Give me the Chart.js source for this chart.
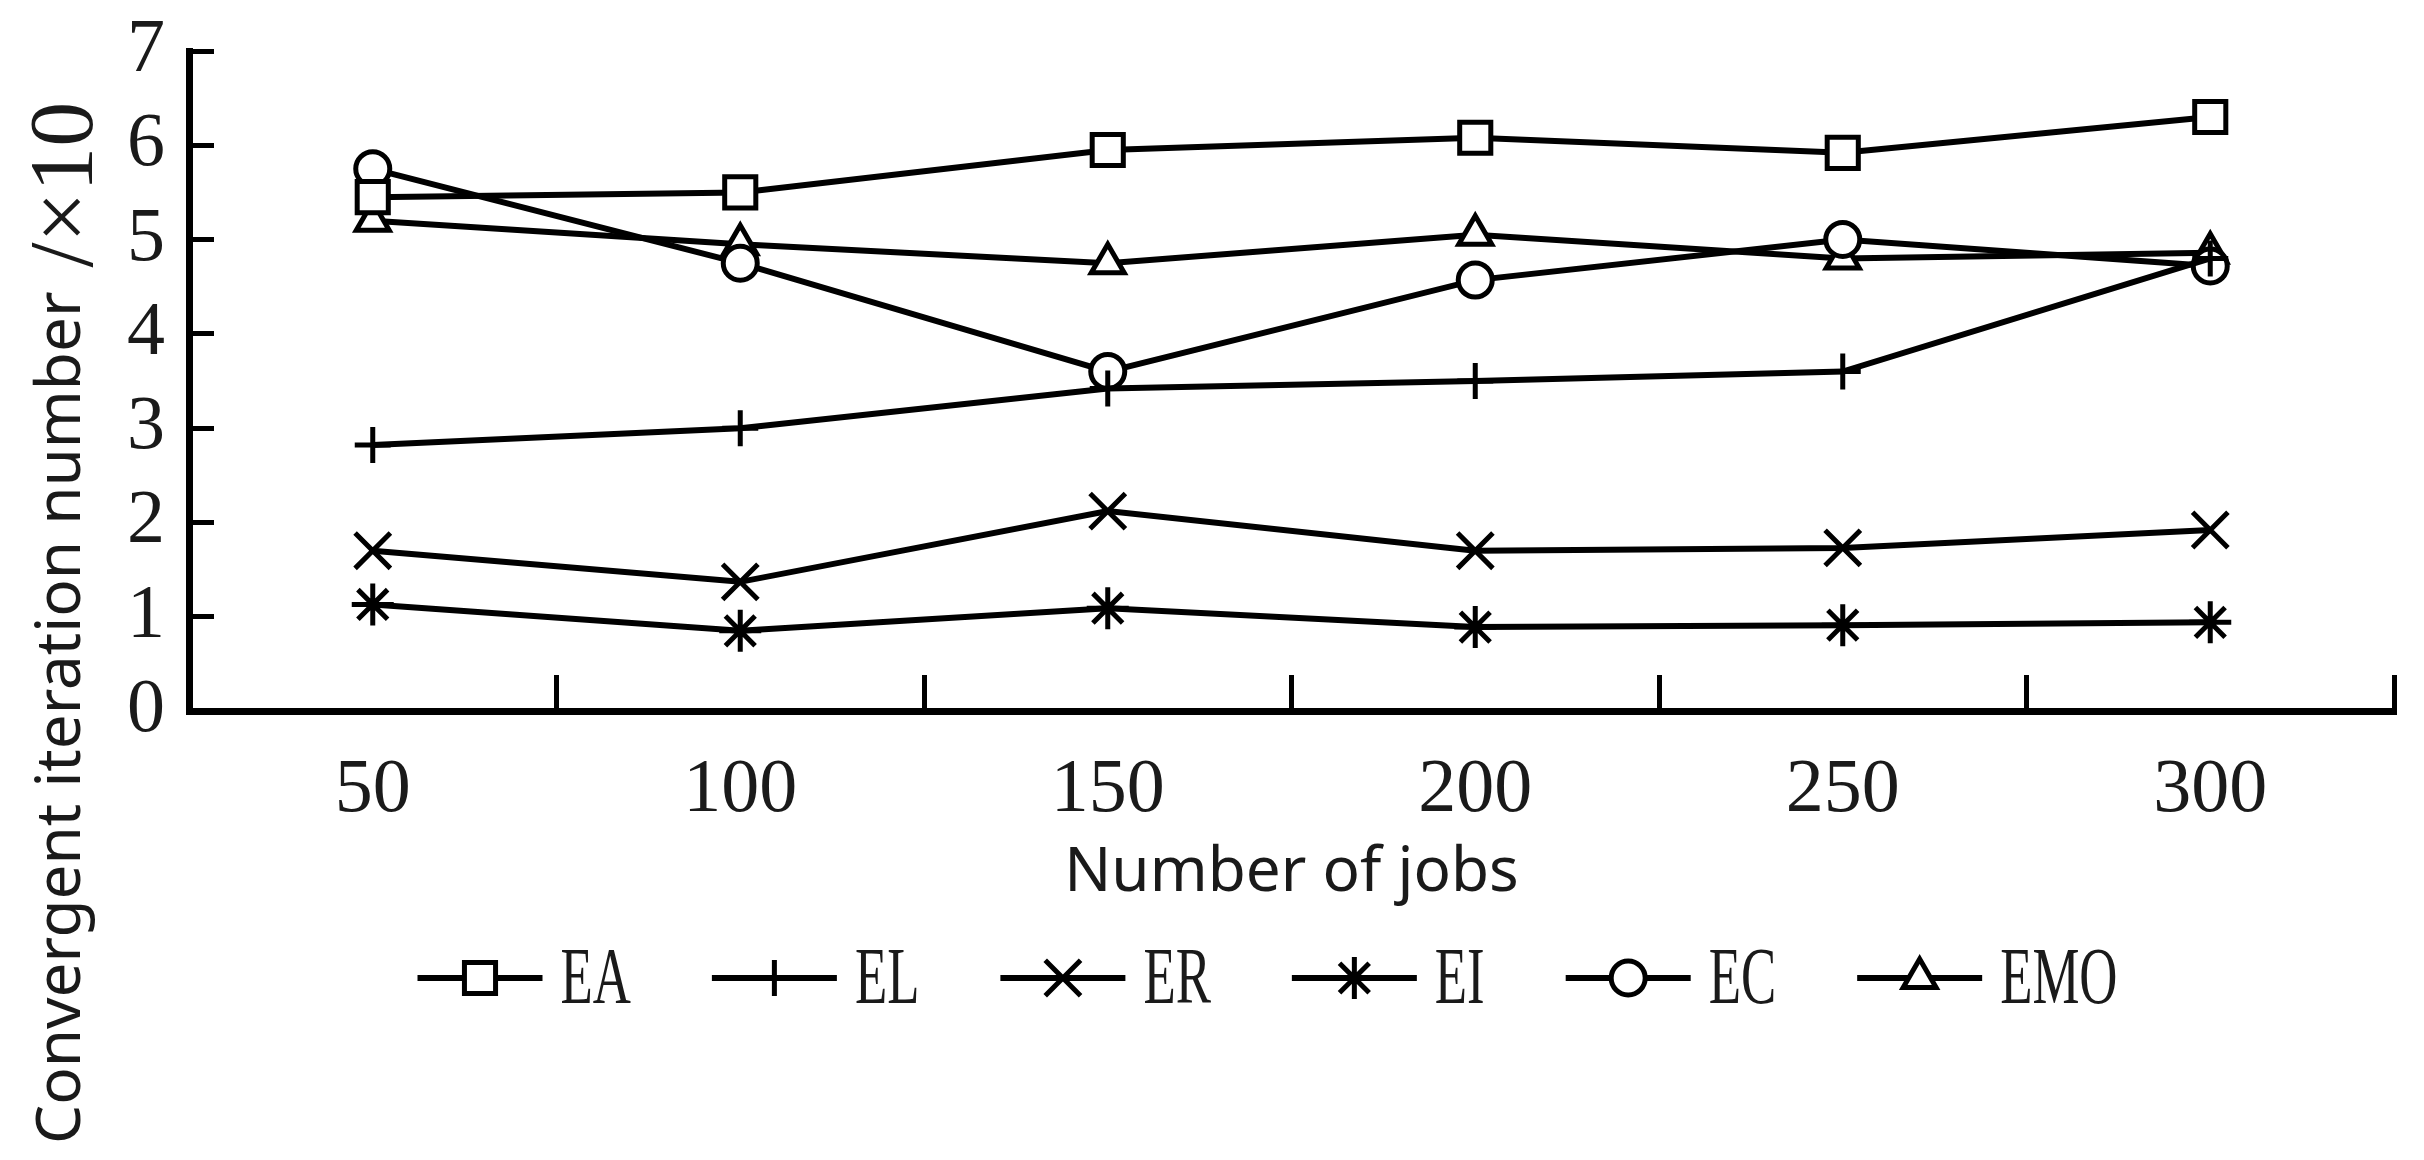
<!DOCTYPE html>
<html>
<head>
<meta charset="utf-8">
<script src="https://cdn.jsdelivr.net/npm/chart.js"></script>
<style>
  html, body { margin: 0; padding: 0; background: #fff; }
  canvas { display: block; }
</style>
</head>
<body>
<canvas id="chart" width="2424" height="1160"></canvas>
<script>
// number of jobs on the x axis
const jobs = ['50', '100', '150', '200', '250', '300'];

// convergent iteration number (x10) per method
const EA  = [5.45, 5.5, 5.95, 6.08, 5.92, 6.3];
const EL  = [2.82, 3.0, 3.42, 3.5, 3.6, 4.8];
const ER  = [1.7, 1.37, 2.12, 1.7, 1.73, 1.92];
const EI  = [1.13, 0.85, 1.09, 0.89, 0.91, 0.94];
const EC  = [5.75, 4.75, 3.6, 4.57, 5.0, 4.72];
const EMO = [5.2, 4.95, 4.75, 5.05, 4.8, 4.86];

const yMin = 0, yMax = 7, yStep = 1;

const serif = '"Liberation Serif", "Times New Roman", serif';
const sans = '"Noto Sans", "Open Sans", sans-serif';
const ink = '#1a1a1a';

function series(label, data, style, radius) {
  return {
    label: label,
    data: data,
    borderColor: '#000',
    borderWidth: 6,
    pointStyle: style,
    pointRadius: radius,
    pointBorderWidth: 5,
    pointBorderColor: '#000',
    pointBackgroundColor: '#fff',
    tension: 0,
    fill: false
  };
}

// y title and the line+marker legend are drawn by hand
const extraText = {
  id: 'extraText',
  afterDraw(chart) {
    const ctx = chart.ctx;
    const area = chart.chartArea;

    // rotated y axis title
    ctx.save();
    ctx.translate(80, 1144);
    ctx.rotate(-Math.PI / 2);
    ctx.fillStyle = ink;
    ctx.textAlign = 'left';
    ctx.textBaseline = 'alphabetic';
    ctx.font = '62px ' + sans;
    const part1 = 'Convergent iteration number';
    ctx.fillText(part1, 0, 0);
    const w1 = ctx.measureText(part1).width;
    ctx.font = '90px ' + serif;
    ctx.fillText('/×10', w1 + 24, 12);
    ctx.restore();

    // legend
    const y = 978;
    const lineLen = 125, textGap = 18, itemGap = 81, sx = 0.66;
    ctx.save();
    ctx.font = '80px ' + serif;
    const widths = chart.data.datasets.map(ds => ctx.measureText(ds.label).width * sx);
    let total = 0;
    widths.forEach(w => { total += lineLen + textGap + w; });
    total += itemGap * (widths.length - 1);
    let x = (area.left + area.right) / 2 - 24 - total / 2;

    chart.data.datasets.forEach((ds, i) => {
      ctx.strokeStyle = '#000';
      ctx.lineWidth = ds.borderWidth;
      ctx.beginPath();
      ctx.moveTo(x, y);
      ctx.lineTo(x + lineLen, y);
      ctx.stroke();

      ctx.fillStyle = '#fff';
      ctx.lineWidth = ds.pointBorderWidth;
      Chart.helpers.drawPoint(ctx, {
        pointStyle: ds.pointStyle,
        radius: ds.pointRadius,
        rotation: 0,
        borderWidth: ds.pointBorderWidth
      }, x + lineLen / 2, y);

      ctx.save();
      ctx.fillStyle = ink;
      ctx.textAlign = 'left';
      ctx.textBaseline = 'alphabetic';
      ctx.translate(x + lineLen + textGap, y + 25);
      ctx.scale(sx, 1);
      ctx.fillText(ds.label, 0, 0);
      ctx.restore();

      x += lineLen + textGap + widths[i] + itemGap;
    });
    ctx.restore();
  }
};

const ctx = document.getElementById('chart').getContext('2d');
new Chart(ctx, {
  type: 'line',
  data: {
    labels: jobs,
    datasets: [
      series('EA', EA, 'rect', 22),
      series('EL', EL, 'cross', 18),
      series('ER', ER, 'crossRot', 25),
      series('EI', EI, 'star', 21),
      series('EC', EC, 'circle', 17),
      series('EMO', EMO, 'triangle', 19)
    ]
  },
  options: {
    responsive: false,
    devicePixelRatio: 1,
    animation: false,
    events: [],
    layout: {
      padding: { top: 51, right: 29, bottom: 249, left: 0 }
    },
    plugins: {
      legend: { display: false },
      tooltip: { enabled: false }
    },
    scales: {
      x: {
        offset: true,
        afterFit: (scale) => { scale.height = 200; },
        grid: {
          offset: true,
          drawOnChartArea: false,
          drawTicks: true,
          tickLength: -36,
          tickWidth: 5,
          color: '#000'
        },
        border: { display: true, width: 7, color: '#000' },
        ticks: {
          padding: 70,
          color: ink,
          font: { family: serif, size: 76 }
        },
        title: {
          display: true,
          text: 'Number of jobs',
          color: ink,
          padding: 0,
          font: { family: sans, size: 62 }
        }
      },
      y: {
        min: yMin,
        max: yMax,
        afterFit: (scale) => {
          scale.width = 189;
          scale.paddingTop = 0;
          scale.paddingBottom = 0;
        },
        grid: {
          drawOnChartArea: false,
          drawTicks: true,
          tickLength: -25,
          tickWidth: 5,
          color: '#000'
        },
        border: { display: true, width: 7, color: '#000' },
        ticks: {
          stepSize: yStep,
          autoSkip: false,
          padding: 49,
          color: ink,
          font: { family: serif, size: 76 }
        }
      }
    }
  },
  plugins: [extraText]
});
</script>
</body>
</html>
